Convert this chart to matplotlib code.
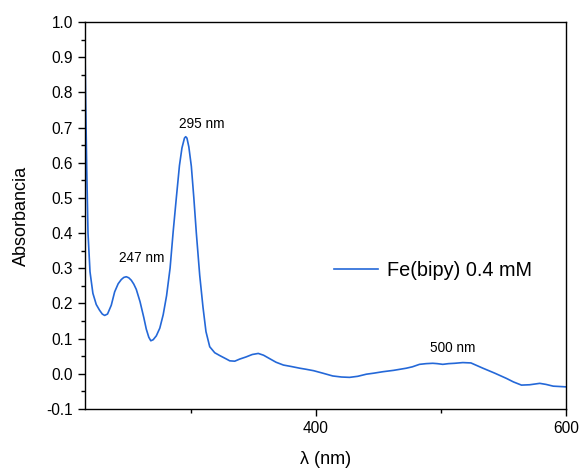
import matplotlib
matplotlib.use("Agg")
import matplotlib.pyplot as plt
from matplotlib.ticker import MultipleLocator, FuncFormatter

wavelength = [212.5, 214.0, 215.2, 216.0, 216.9, 217.9, 219.5, 221.8, 224.5, 227.1, 229.3, 231.2,
              233.5, 236.5, 239.2, 242.0, 244.5, 246.5, 248.5, 250.5, 252.5, 254.5, 256.5, 259.5, 262.5, 264.5,
              266.5, 268.1, 270.0, 272.5, 275.3, 278.0, 280.7, 283.5, 286.0, 288.5, 291.0, 293.0, 295.0,
              296.0, 297.0, 298.5, 300.5, 302.5, 304.5, 307.2, 309.8, 312.2, 315.2, 319.2, 323.2, 328.6,
              331.2, 335.2, 339.2, 344.2, 349.2, 354.0, 358.2, 363.2, 368.2, 374.1, 380.2, 387.2,
              392.2, 398.2, 405.5, 413.5, 420.5, 427.0, 433.5, 440.4, 446.5, 453.5, 462.3, 472.3,
              477.2, 482.9, 488.2, 493.5, 497.1, 501.5, 506.1, 511.0, 517.5, 524.0, 533.6, 543.0,
              552.4, 558.0, 564.4, 571.0, 579.0, 584.0, 589.8, 595.0, 600.0]
absorbance = [1.45, 1.18, 1.00, 0.78, 0.58, 0.40, 0.29, 0.229, 0.197, 0.181, 0.170, 0.166,
              0.170, 0.195, 0.233, 0.256, 0.268, 0.274, 0.276, 0.273, 0.266, 0.255, 0.240, 0.205, 0.160, 0.127,
              0.104, 0.094, 0.097, 0.108, 0.130, 0.168, 0.222, 0.300, 0.405, 0.500, 0.592, 0.642, 0.670,
              0.674, 0.670, 0.645, 0.590, 0.500, 0.400, 0.280, 0.190, 0.120, 0.077, 0.060, 0.052, 0.042,
              0.037, 0.036, 0.042, 0.048, 0.055, 0.058, 0.053, 0.043, 0.033, 0.025, 0.021, 0.016,
              0.013, 0.009, 0.002, -0.006, -0.009, -0.010, -0.007, -0.001, 0.002, 0.006, 0.010, 0.016,
              0.020, 0.027, 0.029, 0.030, 0.029, 0.027, 0.029, 0.030, 0.032, 0.031, 0.016, 0.002,
              -0.013, -0.023, -0.032, -0.031, -0.027, -0.030, -0.035, -0.036, -0.037]

series_label = "Fe(bipy) 0.4 mM"
peak_labels = ["247 nm", "295 nm", "500 nm"]
peak_positions = [(260.8, 0.329), (308.8, 0.71), (509.6, 0.073)]

plt.rcParams['font.family'] = ['Liberation Sans', 'DejaVu Sans']

fig = plt.figure(figsize=(5.81, 4.68), dpi=100)
ax = fig.add_axes([0.1463, 0.126, 0.8279, 0.827])

ax.plot(wavelength, absorbance, color='#2468d8', lw=1.2, label=series_label)

ax.set_xlim(215.5, 600)
ax.set_ylim(-0.1, 1.0)
ax.xaxis.set_major_locator(MultipleLocator(200))
ax.xaxis.set_minor_locator(MultipleLocator(100))
ax.yaxis.set_major_locator(MultipleLocator(0.1))
ax.yaxis.set_minor_locator(MultipleLocator(0.05))
ax.tick_params(which='major', direction='out', length=5, width=1.0, labelsize=11.2)
ax.tick_params(which='minor', direction='out', length=3, width=1.0)
ax.yaxis.set_major_formatter(FuncFormatter(lambda v, p: f"{v:.1f}"))
for s in ax.spines.values():
    s.set_linewidth(1.0)

ax.set_xlabel("λ (nm)", fontsize=13, labelpad=11)
ax.set_ylabel("Absorbancia", fontsize=13, labelpad=12)

for lbl, (px, py) in zip(peak_labels, peak_positions):
    ax.text(px, py, lbl, fontsize=9.8, ha='center', va='center')

leg = ax.legend(loc='center left', bbox_to_anchor=(0.481, 0.359), frameon=False,
                fontsize=14.3, handlelength=2.2, handletextpad=0.45)

fig.savefig("out.png", dpi=100)
